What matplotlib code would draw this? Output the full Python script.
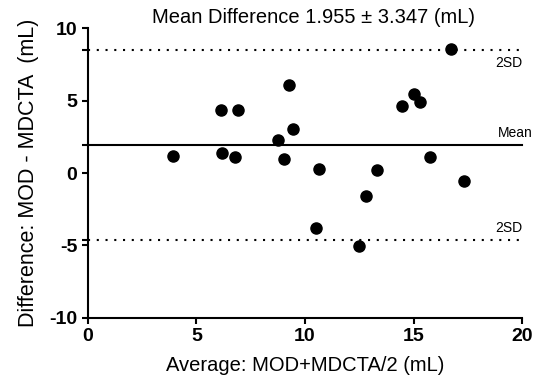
import numpy as np
import matplotlib
matplotlib.use('Agg')
import matplotlib.pyplot as plt

plt.rcParams['font.family'] = ['Liberation Sans', 'DejaVu Sans']
plt.rcParams['axes.unicode_minus'] = False

# Bland-Altman data
average = [3.93, 6.13, 6.91, 6.20, 6.76, 9.26, 9.44, 8.75, 9.03, 10.64,
           10.52, 16.72, 15.03, 15.29, 14.45, 15.78, 13.30, 17.34, 12.82, 12.50]
difference = [1.18, 4.35, 4.35, 1.36, 1.08, 6.06, 3.04, 2.28, 0.99, 0.26,
              -3.78, 8.60, 5.46, 4.93, 4.65, 1.13, 0.21, -0.55, -1.61, -5.07]
mean_diff = 1.955
sd_diff = 3.347
x_ticks = [0, 5, 10, 15, 20]
y_ticks = [-10, -5, 0, 5, 10]

upper = mean_diff + 1.96 * sd_diff
lower = mean_diff - 1.96 * sd_diff

fig = plt.figure(figsize=(5.36, 3.91), dpi=100)
ax = fig.add_axes([0.164, 0.1875, 0.81, 0.74])

ax.scatter(average, difference, s=64, color='black', zorder=3, clip_on=False)

ax.plot([0, 20], [mean_diff, mean_diff], color='black', lw=1.5, clip_on=False)
for lim in (upper, lower):
    ax.plot([0, 20], [lim, lim], color='black', lw=1.5,
            linestyle=(0, (1, 3.2)), clip_on=False)

ax.text(20.5, mean_diff + 0.3, 'Mean', ha='right', va='bottom', fontsize=10)
ax.text(20, upper - 0.4, '2SD', ha='right', va='top', fontsize=10)
ax.text(20, lower + 0.35, '2SD', ha='right', va='bottom', fontsize=10)

ax.set_xlim(0, 20)
ax.set_ylim(-10, 10)
ax.set_xticks(x_ticks)
ax.set_yticks(y_ticks)
ax.set_yticks([lower, mean_diff, upper], minor=True)
ax.tick_params(which='both', direction='out', length=4.5, width=1.5,
               labelsize=14, pad=3)
for lab in ax.get_xticklabels() + ax.get_yticklabels():
    lab.set_fontweight('bold')

for side in ('top', 'right'):
    ax.spines[side].set_visible(False)
for side in ('left', 'bottom'):
    ax.spines[side].set_linewidth(1.5)

ax.set_xlabel('Average: MOD+MDCTA/2 (mL)', fontsize=14.5, labelpad=8)
ax.set_ylabel('Difference: MOD - MDCTA  (mL)', fontsize=15.5, labelpad=7.5)
ax.set_title('Mean Difference 1.955 \u00b1 3.347 (mL)', fontsize=14.5, x=0.52, pad=4)

fig.savefig('out.png', dpi=100)
